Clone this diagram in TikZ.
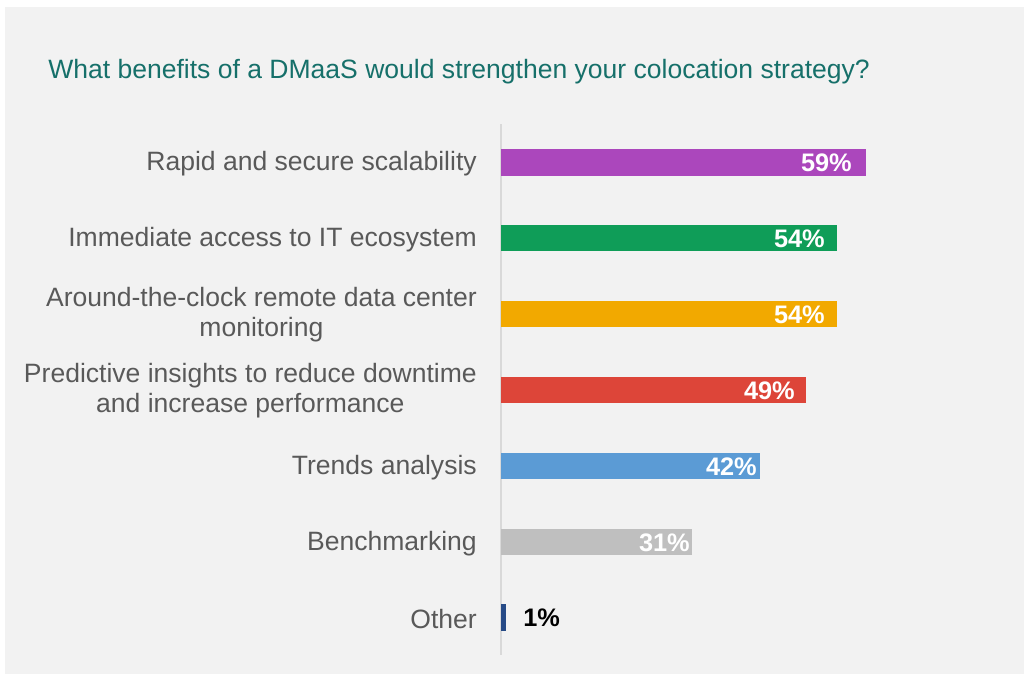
\documentclass[tikz,border=0pt]{standalone}
\usepackage{fontspec}
\setmainfont{Liberation Sans}
\usepackage{tikz}
\usepackage{xcolor}
\definecolor{panelgray}{HTML}{F2F2F2}
\definecolor{titleteal}{HTML}{16706A}
\definecolor{labelgray}{HTML}{595959}
\definecolor{axisgray}{HTML}{D9D9D9}
\definecolor{barpurple}{HTML}{AB47BC}
\definecolor{bargreen}{HTML}{0F9D58}
\definecolor{barorange}{HTML}{F2A900}
\definecolor{barred}{HTML}{DD4539}
\definecolor{barblue}{HTML}{5B9BD5}
\definecolor{bargray}{HTML}{BFBFBF}
\definecolor{barnavy}{HTML}{264A86}

\begin{document}
\begin{tikzpicture}[x=0.75pt,y=-0.75pt,
  catlabel/.style={anchor=east,inner sep=0pt,align=center,text=labelgray,
    font=\fontsize{19.9}{22.5}\selectfont},
  pctlabel/.style={anchor=east,inner sep=0pt,text=white,
    font=\fontsize{19}{22}\selectfont\bfseries}]
\useasboundingbox (0,0) rectangle (1024,674);
\fill[white] (0,0) rectangle (1024,674);
\fill[panelgray] (5,7) rectangle (1024,674);
\node (title) [anchor=base west,inner sep=0pt,text=titleteal,font=\fontsize{19.9}{22.5}\selectfont] at (48,79) {What benefits of a DMaaS would strengthen your colocation strategy?};
\draw[color=axisgray,line width=1.5pt] (500.5,124) -- (500.5,655);
\fill[barpurple] (501,149) rectangle (866,176);
\fill[bargreen] (501,225) rectangle (837,251);
\fill[barorange] (501,301) rectangle (837,327);
\fill[barred] (501,377) rectangle (806,403);
\fill[barblue] (501,453) rectangle (760,479);
\fill[bargray] (501,529) rectangle (692,555);
\fill[barnavy] (501,604) rectangle (506,631);
\node (c1) [catlabel] at (477,164) {Rapid and secure scalability};
\node (c2) [catlabel] at (477,240) {Immediate access to IT ecosystem};
\node (c3) [catlabel] at (477,315) {Around-the-clock remote data center\\monitoring};
\node (c4) [catlabel] at (477,391) {Predictive insights to reduce downtime\\and increase performance};
\node (c5) [catlabel] at (477,468) {Trends analysis};
\node (c6) [catlabel] at (477,544) {Benchmarking};
\node (c7) [catlabel] at (477,619) {Other};
\node (p1) [pctlabel] at (852,163) {59\%};
\node (p2) [pctlabel] at (825,239) {54\%};
\node (p3) [pctlabel] at (825,315) {54\%};
\node (p4) [pctlabel] at (795,391) {49\%};
\node (p5) [pctlabel] at (757,467) {42\%};
\node (p6) [pctlabel] at (690,543) {31\%};
\node (p7) [pctlabel,anchor=west,text=black] at (523,618) {1\%};
\end{tikzpicture}
\end{document}
